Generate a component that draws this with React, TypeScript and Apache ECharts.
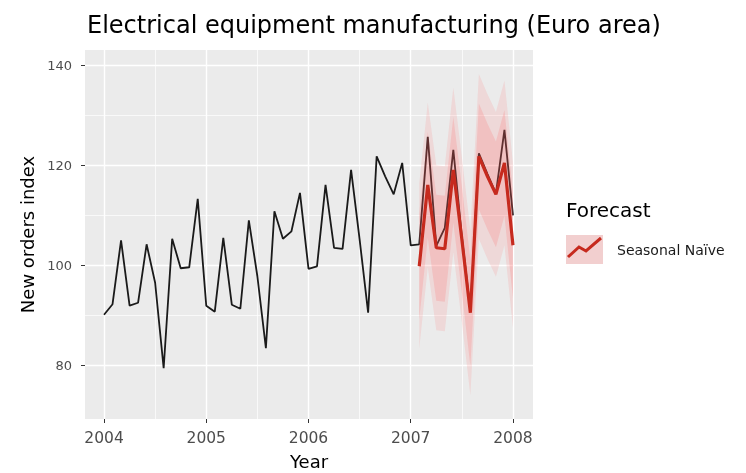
import React, { useEffect, useRef } from "react";
import * as echarts from "echarts";

// Monthly new orders index, Jan 2004 .. Jan 2008
const startYear = 2004;
const observed = [
  90.1, 92.2, 105.0, 91.9, 92.5, 104.2, 96.5, 79.4, 105.3, 99.4, 99.6, 113.3,
  91.9, 90.7, 105.5, 92.1, 91.3, 109.0, 97.8, 83.4, 110.8, 105.3, 106.8, 114.5,
  99.3, 99.8, 116.1, 103.5, 103.3, 119.1, 105.2, 90.5, 121.8, 117.8, 114.2, 120.5,
  104.0, 104.2, 125.7, 103.9, 107.5, 123.1, 105.8, 91.0, 122.4, 118.3, 114.4, 127.1,
  110.0,
];

// Seasonal naive forecast, Feb 2007 .. Jan 2008 (month offset 37 from Jan 2004)
const forecastStart = 37;
const forecast = [99.8, 116.1, 103.5, 103.3, 119.1, 105.2, 90.5, 121.8, 117.8, 114.2, 120.5, 104.0];
const lo80 = [89.2, 105.5, 92.9, 92.7, 108.5, 94.6, 79.9, 111.2, 107.2, 103.6, 109.9, 93.4];
const hi80 = [110.4, 126.7, 114.1, 113.9, 129.7, 115.8, 101.1, 132.4, 128.4, 124.8, 131.1, 114.6];
const lo95 = [83.3, 99.6, 87.0, 86.8, 102.6, 88.7, 74.0, 105.3, 101.3, 97.7, 104.0, 87.5];
const hi95 = [116.3, 132.6, 120.0, 119.8, 135.6, 121.7, 107.0, 138.3, 134.3, 130.7, 137.0, 120.5];

// Axis breaks
const xMajor = [2004, 2005, 2006, 2007, 2008];
const xMinor = [2004.5, 2005.5, 2006.5, 2007.5];
const yMajor = [80, 100, 120, 140];
const yMinor = [90, 110, 130];

const FONT = "'DejaVu Sans', 'Liberation Sans', Arial, sans-serif";
const RED = "#C62A1E";
const BAND95 = "rgba(255, 110, 110, 0.15)";
const BAND80 = "rgba(255, 90, 90, 0.18)";

const monthTime = (i: number) => startYear + i / 12;

function ribbon(lo: number[], hi: number[], fill: string, z: number) {
  const times = forecast.map((_, k) => monthTime(forecastStart + k));
  return {
    type: "custom",
    z,
    silent: true,
    data: times.map((t, k) => [t, lo[k], hi[k]]),
    encode: { x: 0, y: [1, 2] },
    renderItem: (params: any, api: any) => {
      if (params.dataIndex !== 0) return null;
      const upper = times.map((t, k) => api.coord([t, hi[k]]));
      const lower = times.map((t, k) => api.coord([t, lo[k]])).reverse();
      return {
        type: "polygon",
        shape: { points: [...upper, ...lower] },
        style: { fill, stroke: "none" },
      };
    },
  };
}

export default function App() {
  const ref = useRef<HTMLDivElement>(null);

  useEffect(() => {
    if (!ref.current) return;
    const chart = echarts.init(ref.current, undefined, { renderer: "svg" });

    const gridLines = [
      ...xMajor.map((v) => ({ xAxis: v, lineStyle: { width: 1.4 } })),
      ...xMinor.map((v) => ({ xAxis: v, lineStyle: { width: 0.7 } })),
      ...yMajor.map((v) => ({ yAxis: v, lineStyle: { width: 1.4 } })),
      ...yMinor.map((v) => ({ yAxis: v, lineStyle: { width: 0.7 } })),
    ];

    chart.setOption({
      animation: false,
      title: {
        text: "Electrical equipment manufacturing (Euro area)",
        left: 82,
        top: 8,
        textStyle: { fontFamily: FONT, fontSize: 24, fontWeight: "normal", color: "#000" },
      },
      grid: {
        left: 85,
        top: 50,
        width: 448,
        height: 369,
        outerBoundsMode: "none",
        containLabel: false,
        show: true,
        backgroundColor: "#EBEBEB",
        borderWidth: 0,
      },
      xAxis: {
        type: "value",
        min: 2003.814,
        max: 2008.196,
        name: "Year",
        nameLocation: "middle",
        nameGap: 33,
        nameTextStyle: { fontFamily: FONT, fontSize: 18, color: "#000" },
        axisLine: { show: false },
        axisTick: { show: true, length: 4, lineStyle: { color: "#333", width: 1 }, customValues: xMajor },
        axisLabel: {
          fontFamily: FONT,
          fontSize: 15.5,
          color: "#4D4D4D",
          margin: 11,
          customValues: xMajor,
          formatter: (v: number) => String(Math.round(v)),
        },
        splitLine: { show: false },
      },
      yAxis: {
        type: "value",
        min: 69.22,
        max: 143.1,
        name: "New orders index",
        nameLocation: "middle",
        nameGap: 49,
        nameTextStyle: { fontFamily: FONT, fontSize: 18, color: "#000" },
        axisLine: { show: false },
        axisTick: { show: true, length: 4, lineStyle: { color: "#333", width: 1 }, customValues: yMajor },
        axisLabel: {
          fontFamily: FONT,
          fontSize: 13,
          color: "#4D4D4D",
          margin: 13,
          customValues: yMajor,
          formatter: (v: number) => String(Math.round(v)),
        },
        splitLine: { show: false },
      },
      series: [
        {
          type: "line",
          name: "grid",
          data: [],
          silent: true,
          markLine: {
            silent: true,
            z: 1,
            symbol: ["none", "none"],
            label: { show: false },
            lineStyle: { color: "#FFFFFF", type: "solid" },
            data: gridLines,
          },
        },
        {
          type: "line",
          name: "Data",
          z: 3,
          data: observed.map((v, i) => [monthTime(i), v]),
          showSymbol: false,
          symbol: "none",
          lineStyle: { color: "#1A1A1A", width: 1.8 },
        },
        ribbon(lo95, hi95, BAND95, 4),
        ribbon(lo80, hi80, BAND80, 5),
        {
          type: "line",
          name: "Seasonal Naïve",
          z: 6,
          data: forecast.map((v, k) => [monthTime(forecastStart + k), v]),
          showSymbol: false,
          symbol: "none",
          lineStyle: { color: RED, width: 3.2 },
        },
      ],
      graphic: [
        {
          type: "text",
          left: 566,
          top: 200,
          style: { text: "Forecast", fontFamily: FONT, fontSize: 20, fill: "#000" },
        },
        {
          type: "rect",
          shape: { x: 566, y: 235, width: 37, height: 29 },
          style: { fill: "#F2CFCF" },
        },
        {
          type: "polyline",
          shape: { points: [[568, 257], [579, 247], [586, 251], [601, 238]] },
          style: { stroke: RED, lineWidth: 3, fill: "none" },
        },
        {
          type: "text",
          left: 617,
          top: 243,
          style: { text: "Seasonal Naïve", fontFamily: FONT, fontSize: 14, fill: "#1A1A1A" },
        },
      ],
    });

    return () => chart.dispose();
  }, []);

  return (
    <div
      ref={ref}
      style={{ position: "fixed", left: 0, top: 0, width: 746, height: 473 }}
    />
  );
}
